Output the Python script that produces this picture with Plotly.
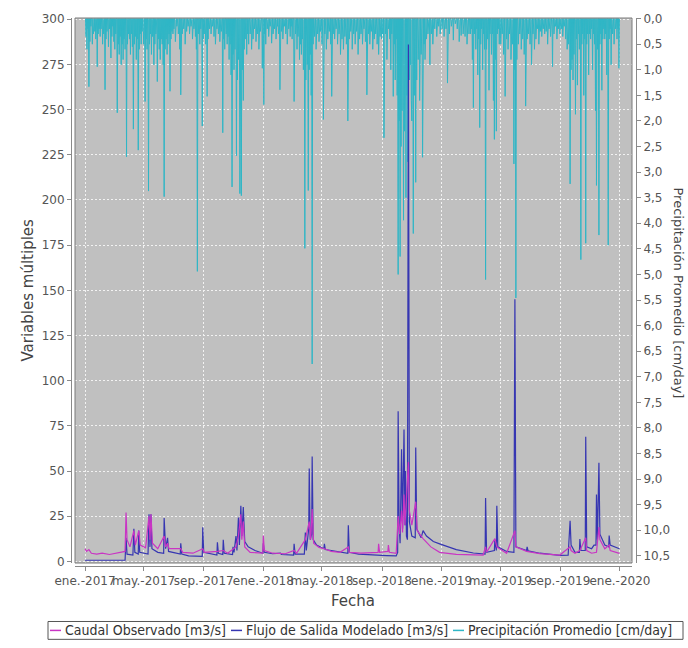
import pandas as pd
import plotly.graph_objects as go

# ---------------- DATA ----------------
# Precipitation (cm/day): rainy days only; all other days are 0
rain_dates = [
 "2017-01-03","2017-01-05","2017-01-07","2017-01-09","2017-01-11","2017-01-13","2017-01-16","2017-01-18","2017-01-21","2017-01-23","2017-01-26","2017-01-28","2017-01-30",
 "2017-02-01","2017-02-03","2017-02-06","2017-02-08","2017-02-11","2017-02-13","2017-02-15","2017-02-18","2017-02-20","2017-02-23","2017-02-25","2017-02-27",
 "2017-03-01","2017-03-03","2017-03-05","2017-03-08","2017-03-10","2017-03-12","2017-03-14","2017-03-16","2017-03-18","2017-03-20","2017-03-22","2017-03-24","2017-03-27","2017-03-29","2017-03-31",
 "2017-04-02","2017-04-04","2017-04-06","2017-04-08","2017-04-10","2017-04-12","2017-04-14","2017-04-16","2017-04-18","2017-04-20","2017-04-22","2017-04-24","2017-04-26","2017-04-28",
 "2017-05-01","2017-05-04","2017-05-06","2017-05-08","2017-05-11","2017-05-13","2017-05-15","2017-05-17","2017-05-19","2017-05-22","2017-05-24","2017-05-26","2017-05-29","2017-05-31",
 "2017-06-02","2017-06-04","2017-06-06","2017-06-08","2017-06-10","2017-06-12","2017-06-14","2017-06-16","2017-06-18","2017-06-20","2017-06-22","2017-06-24","2017-06-26","2017-06-28","2017-06-30",
 "2017-07-02","2017-07-05","2017-07-08","2017-07-11","2017-07-14","2017-07-16","2017-07-19","2017-07-22","2017-07-25","2017-07-28","2017-07-31",
 "2017-08-03","2017-08-06","2017-08-09","2017-08-12","2017-08-15","2017-08-17","2017-08-19","2017-08-21","2017-08-24","2017-08-26","2017-08-29","2017-08-31",
 "2017-09-02","2017-09-05","2017-09-08","2017-09-10","2017-09-13","2017-09-16","2017-09-19","2017-09-22","2017-09-25","2017-09-28",
 "2017-10-01","2017-10-04","2017-10-07","2017-10-10","2017-10-12","2017-10-14","2017-10-17","2017-10-19","2017-10-21","2017-10-23","2017-10-25","2017-10-27","2017-10-29","2017-10-31",
 "2017-11-02","2017-11-04","2017-11-07","2017-11-09","2017-11-11","2017-11-14","2017-11-17","2017-11-19","2017-11-21","2017-11-23","2017-11-25","2017-11-28","2017-11-30",
 "2017-12-02","2017-12-05","2017-12-08","2017-12-11","2017-12-14","2017-12-17","2017-12-20","2017-12-23","2017-12-26","2017-12-30",
 "2018-01-02","2018-01-04","2018-01-06","2018-01-09","2018-01-12","2018-01-15","2018-01-18","2018-01-21","2018-01-24","2018-01-27","2018-01-30",
 "2018-02-01","2018-02-04","2018-02-07","2018-02-10","2018-02-13","2018-02-16","2018-02-19","2018-02-22","2018-02-25","2018-02-27",
 "2018-03-01","2018-03-05","2018-03-08","2018-03-11","2018-03-13","2018-03-16","2018-03-18","2018-03-20","2018-03-22","2018-03-24","2018-03-27","2018-03-29","2018-03-31",
 "2018-04-01","2018-04-03","2018-04-05","2018-04-07","2018-04-09","2018-04-11","2018-04-13","2018-04-16","2018-04-19","2018-04-22","2018-04-25","2018-04-28",
 "2018-05-01","2018-05-04","2018-05-07","2018-05-10","2018-05-13","2018-05-16","2018-05-19","2018-05-21","2018-05-24","2018-05-27","2018-05-30",
 "2018-06-02","2018-06-05","2018-06-08","2018-06-11","2018-06-14","2018-06-17","2018-06-20","2018-06-23","2018-06-26","2018-06-29",
 "2018-07-02","2018-07-05","2018-07-08","2018-07-11","2018-07-14","2018-07-17","2018-07-20","2018-07-23","2018-07-26","2018-07-29",
 "2018-08-01","2018-08-04","2018-08-07","2018-08-10","2018-08-13","2018-08-16","2018-08-19","2018-08-22","2018-08-25","2018-08-28","2018-08-31",
 "2018-09-02","2018-09-05","2018-09-08","2018-09-11","2018-09-14","2018-09-17","2018-09-19","2018-09-21","2018-09-24","2018-09-26","2018-09-28","2018-09-30",
 "2018-10-02","2018-10-04","2018-10-06","2018-10-08","2018-10-10","2018-10-12","2018-10-15","2018-10-17","2018-10-20","2018-10-22","2018-10-24","2018-10-27","2018-10-29","2018-10-31",
 "2018-11-01","2018-11-04","2018-11-06","2018-11-09","2018-11-11","2018-11-14","2018-11-17","2018-11-20","2018-11-23","2018-11-26","2018-11-28",
 "2018-12-01","2018-12-04","2018-12-08","2018-12-11","2018-12-14","2018-12-18","2018-12-22","2018-12-26","2018-12-29",
 "2019-01-02","2019-01-06","2019-01-10","2019-01-13","2019-01-17","2019-01-21","2019-01-25","2019-01-29",
 "2019-02-02","2019-02-06","2019-02-10","2019-02-14","2019-02-18","2019-02-22","2019-02-26",
 "2019-03-01","2019-03-03","2019-03-05","2019-03-07","2019-03-09","2019-03-12","2019-03-14","2019-03-16","2019-03-18","2019-03-20","2019-03-22","2019-03-24","2019-03-26","2019-03-28","2019-03-30",
 "2019-04-01","2019-04-03","2019-04-05","2019-04-08","2019-04-10","2019-04-13","2019-04-15","2019-04-17","2019-04-19","2019-04-21","2019-04-23","2019-04-25","2019-04-27","2019-04-29",
 "2019-05-02","2019-05-05","2019-05-08","2019-05-11","2019-05-14","2019-05-17","2019-05-20","2019-05-23","2019-05-26","2019-05-29","2019-05-31",
 "2019-06-02","2019-06-04","2019-06-07","2019-06-10","2019-06-13","2019-06-16","2019-06-19","2019-06-22","2019-06-25","2019-06-28",
 "2019-07-01","2019-07-04","2019-07-07","2019-07-10","2019-07-13","2019-07-16","2019-07-19","2019-07-22","2019-07-25","2019-07-28","2019-07-31",
 "2019-08-03","2019-08-06","2019-08-09","2019-08-12","2019-08-16","2019-08-19","2019-08-22","2019-08-25","2019-08-28","2019-08-31",
 "2019-09-03","2019-09-06","2019-09-09","2019-09-12","2019-09-15","2019-09-18","2019-09-21","2019-09-23","2019-09-25","2019-09-27","2019-09-29",
 "2019-10-02","2019-10-04","2019-10-06","2019-10-08","2019-10-10","2019-10-13","2019-10-15","2019-10-17","2019-10-19","2019-10-21","2019-10-23","2019-10-25","2019-10-27","2019-10-29","2019-10-31",
 "2019-11-02","2019-11-04","2019-11-06","2019-11-08","2019-11-10","2019-11-12","2019-11-14","2019-11-16","2019-11-19","2019-11-21","2019-11-23","2019-11-25","2019-11-27","2019-11-29",
 "2019-12-01","2019-12-03","2019-12-05","2019-12-08","2019-12-10","2019-12-12","2019-12-14","2019-12-17","2019-12-20","2019-12-23","2019-12-26","2019-12-28","2019-12-30",
]
rain_cm = [
 0.35,0.6,0.2,1.33,0.45,0.15,0.5,0.3,0.25,0.4,0.94,0.3,0.2,
 0.35,0.2,0.5,0.3,1.39,0.4,0.25,0.55,0.2,0.77,0.35,0.15,
 0.45,0.6,0.3,1.84,0.5,0.7,0.35,0.9,0.5,0.8,0.4,0.6,2.70,0.5,0.3,
 0.4,0.7,0.3,0.55,2.16,0.5,0.35,0.8,0.4,2.57,0.6,0.3,0.5,0.25,
 0.5,1.62,0.4,0.6,3.37,0.5,0.3,0.7,0.35,0.9,0.5,0.3,1.23,0.4,
 0.6,0.8,0.4,0.5,0.9,3.48,0.6,0.4,0.7,0.5,0.3,1.42,0.4,0.25,0.3,
 0.2,0.45,0.15,0.3,0.6,1.49,0.3,0.2,0.5,0.25,0.15,
 0.3,0.15,0.4,0.2,0.35,0.6,4.94,0.3,0.5,0.2,2.10,0.4,
 0.3,0.5,1.52,0.4,0.2,0.3,0.15,0.35,0.5,0.2,
 0.3,0.45,0.25,2.23,0.4,0.6,0.3,0.5,0.35,0.8,0.5,1.1,3.29,0.7,
 1.0,0.6,2.68,1.2,0.8,3.42,3.46,1.0,1.6,0.6,0.4,0.7,0.3,
 0.5,0.3,0.6,0.4,0.2,0.45,0.3,0.6,0.25,0.97,
 1.68,0.3,0.5,0.2,0.35,0.15,0.48,0.3,0.2,0.4,0.15,
 0.3,1.39,0.25,0.4,0.15,0.3,0.5,0.2,0.35,0.15,
 0.4,1.62,0.3,0.6,0.35,0.8,0.5,0.7,0.4,1.0,4.49,1.2,0.6,
 0.9,3.36,1.0,0.7,1.5,6.75,0.5,0.35,0.6,0.3,0.45,0.25,
 0.5,1.97,0.3,0.6,0.4,0.25,0.5,1.52,0.3,0.4,0.2,
 0.5,0.3,0.7,0.4,0.6,0.35,0.5,2.0,0.4,0.25,
 0.6,0.3,0.5,0.25,0.7,0.4,0.3,0.5,0.2,0.45,
 1.49,0.3,0.5,0.25,0.6,0.4,0.3,0.5,0.7,0.35,0.4,
 0.3,2.33,0.3,0.8,0.2,0.4,1.0,0.3,1.52,0.5,1.2,0.4,
 1.5,5.0,2.0,4.65,2.5,1.8,3.94,2.2,3.5,1.5,2.8,1.2,0.9,1.6,
 2.0,4.2,1.5,3.2,1.2,0.8,1.6,0.7,2.71,0.5,0.8,
 0.4,0.3,0.9,0.3,0.5,0.2,0.35,0.15,0.3,
 0.2,0.35,0.2,1.26,0.3,0.15,0.42,0.1,
 0.2,0.45,0.33,0.3,0.35,0.5,0.3,
 0.3,0.2,0.8,1.74,0.3,0.6,0.2,1.1,0.4,2.13,0.5,0.2,1.0,0.3,0.6,
 5.1,0.6,0.4,1.4,0.3,0.7,0.3,1.6,2.36,0.8,2.2,0.3,0.2,0.5,
 0.5,0.3,0.7,1.52,0.4,0.6,0.3,0.8,0.5,2.84,1.0,
 5.46,0.8,0.5,0.3,0.6,0.4,0.7,1.71,0.4,0.3,
 0.5,0.9,0.3,0.6,0.4,0.2,0.5,0.25,0.35,0.2,0.3,
 0.25,0.5,0.2,0.35,0.94,0.3,0.15,0.4,0.2,0.3,
 0.2,0.35,0.15,0.4,0.6,0.5,3.23,1.0,0.8,1.2,0.7,
 1.87,0.4,1.3,0.3,0.6,4.71,0.5,0.3,1.5,0.4,4.39,0.5,0.3,1.1,0.3,
 0.4,0.2,1.0,0.3,0.5,1.8,3.26,0.6,4.23,0.5,0.3,1.4,0.4,0.2,
 0.4,0.3,1.1,4.43,0.4,0.2,0.9,0.3,0.5,0.2,0.4,0.2,0.97,
]

# Modelled outflow (m3/s)
mod_dates = [
 "2017-01-01","2017-03-24","2017-03-26","2017-03-28","2017-04-09","2017-04-11","2017-04-13","2017-04-20","2017-04-21","2017-04-23",
 "2017-05-10","2017-05-12","2017-05-14","2017-05-16","2017-05-18","2017-05-30","2017-06-11","2017-06-12","2017-06-15","2017-06-19",
 "2017-06-21","2017-07-15","2017-07-16","2017-07-18","2017-08-01","2017-08-29","2017-08-30","2017-09-01","2017-09-28","2017-09-29",
 "2017-10-01","2017-10-10","2017-10-11","2017-10-13","2017-10-30","2017-10-31","2017-11-02","2017-11-06","2017-11-08","2017-11-11",
 "2017-11-13","2017-11-16","2017-11-18","2017-11-21","2017-11-24","2017-12-01","2017-12-15","2017-12-31","2018-01-01","2018-01-03",
 "2018-01-20","2018-02-05","2018-02-07","2018-03-04","2018-03-05","2018-03-07","2018-03-26","2018-03-28","2018-03-30","2018-04-04",
 "2018-04-05","2018-04-07","2018-04-10","2018-04-11","2018-04-13","2018-04-20","2018-05-05","2018-05-06","2018-05-08","2018-06-07",
 "2018-06-23","2018-06-24","2018-06-26","2018-07-15","2018-08-15","2018-09-10","2018-09-30","2018-10-03","2018-10-04","2018-10-06",
 "2018-10-08","2018-10-11","2018-10-13","2018-10-16","2018-10-18","2018-10-19","2018-10-21","2018-10-23","2018-10-25","2018-10-27",
 "2018-11-01","2018-11-08","2018-11-09","2018-11-11","2018-11-20","2018-11-24","2018-12-01","2018-12-15","2018-12-28","2019-01-31",
 "2019-03-07","2019-03-27","2019-03-31","2019-04-01","2019-04-03","2019-04-19","2019-04-20","2019-04-23","2019-04-24","2019-04-26",
 "2019-05-14","2019-05-29","2019-05-31","2019-06-02","2019-06-24","2019-06-25","2019-06-27","2019-07-21","2019-08-31","2019-09-17",
 "2019-09-21","2019-09-23","2019-10-01","2019-10-10","2019-10-11","2019-10-13","2019-10-22","2019-10-23","2019-10-25","2019-11-04",
 "2019-11-09","2019-11-13","2019-11-14","2019-11-16","2019-11-19","2019-11-21","2019-12-01","2019-12-09","2019-12-10","2019-12-12",
 "2019-12-31",
]
mod_flow = [
 0.6,0.6,13,4,3.5,18,5,4,17,5,
 4,26,8,26,7,5,4.5,24,7,13,
 5.5,4,10,4,3,2.8,18.8,5,3.5,10.6,
 4.5,3.8,11.9,4.5,3.8,8,5,14,6,24.3,
 9,30.7,14,30,11,8,6,4.5,10,5,
 4.2,4.5,3.8,3.5,9.7,4,4,16,6,18,
 51.4,12,15,58,12,9,7,9.7,6.5,5.3,
 4.5,20,5,4,3.4,3.2,3,5,83,20,
 10,62,18,73,20,50,14,12,286,22,
 14,13,63,18,13,17,14,11,9.7,6.5,
 4.6,3.9,4,35,5,6,12,6,30.7,8,
 5.5,5,145,8,6,8,5.8,4.5,3.3,3.4,
 22.5,9,5,5,12.4,6,6,69,8,7,
 9,9,37,12,54.5,15,9,8,14.3,9,
 7,
]

# Observed discharge (m3/s)
obs_dates = [
 "2017-01-01","2017-01-04","2017-01-09","2017-01-14","2017-01-25","2017-02-05","2017-02-20","2017-03-05","2017-03-15","2017-03-24",
 "2017-03-26","2017-03-28","2017-04-03","2017-04-11","2017-04-14","2017-04-21","2017-04-24","2017-05-05","2017-05-12","2017-05-14",
 "2017-05-16","2017-05-19","2017-05-30","2017-06-12","2017-06-15","2017-06-19","2017-06-22","2017-07-16","2017-07-20","2017-08-10",
 "2017-08-30","2017-09-02","2017-09-29","2017-10-11","2017-10-20","2017-11-06","2017-11-11","2017-11-16","2017-11-18","2017-11-21",
 "2017-11-24","2017-12-05","2017-12-31","2018-01-01","2018-01-03","2018-01-20","2018-02-15","2018-03-05","2018-03-10","2018-03-28",
 "2018-04-05","2018-04-08","2018-04-11","2018-04-14","2018-04-25","2018-05-06","2018-05-20","2018-06-07","2018-06-24","2018-06-26",
 "2018-07-20","2018-08-24","2018-08-25","2018-08-27","2018-09-13","2018-09-14","2018-09-16","2018-09-30","2018-10-04","2018-10-07",
 "2018-10-11","2018-10-13","2018-10-16","2018-10-18","2018-10-25","2018-10-27","2018-11-01","2018-11-09","2018-11-12","2018-11-24",
 "2018-12-10","2018-12-28","2019-01-31","2019-03-27","2019-04-01","2019-04-03","2019-04-20","2019-04-24","2019-05-14","2019-05-31",
 "2019-06-02","2019-06-24","2019-07-21","2019-08-31","2019-09-21","2019-09-23","2019-10-01","2019-10-11","2019-10-23","2019-10-25",
 "2019-11-04","2019-11-14","2019-11-19","2019-11-21","2019-12-01","2019-12-10","2019-12-12","2019-12-31",
]
obs_flow = [
 7,5.5,6.5,4.5,4,4.5,3.8,4.5,5,5.5,
 27,12,8,17,9,17,9,7.5,25,12,
 26,10,7,14,8,10,7,7,5,4.5,
 7,5,5.5,6,4.5,8,14,26,12,22,
 8,5,4.5,14.3,6,4.5,4.2,6,4.5,12,
 22,12,29,10,7.7,7,5.5,5,8,5,
 4.6,5,9.7,5,5.5,9,5,4.5,25,15,
 28,16,37,20,55,28,20,33,17,12.6,
 8,5,3.9,3.5,8,5,12.6,8,4.5,17,
 8,5.5,4.3,3.5,8,6,4.5,6,13,6,
 4.5,5,19,12,7,9,6,4.4,
]

x_tick_dates = ["2017-01-01","2017-05-01","2017-09-01","2018-01-01","2018-05-01","2018-09-01",
                "2019-01-01","2019-05-01","2019-09-01","2020-01-01"]
x_tick_text = ["ene.-2017","may.-2017","sep.-2017","ene.-2018","may.-2018","sep.-2018",
               "ene.-2019","may.-2019","sep.-2019","ene.-2020"]

series_names = ["Caudal Observado [m3/s]", "Flujo de Salida Modelado [m3/s]",
                "Precipitación Promedio [cm/day]"]
series_colors = ["#c935c4", "#3636b2", "#2fb6c6"]

# ---------------- BUILD ----------------
days = pd.date_range("2017-01-01", "2019-12-31", freq="D")
precip = pd.Series(0.0, index=days)
precip.loc[pd.to_datetime(rain_dates)] = rain_cm

fig = go.Figure()
# precipitation on base axis (drawn underneath)
fig.add_trace(go.Scatter(x=precip.index, y=precip.values, mode="lines",
                         line=dict(color=series_colors[2], width=1),
                         name=series_names[2], yaxis="y", showlegend=False))
fig.add_trace(go.Scatter(x=pd.to_datetime(mod_dates), y=mod_flow, mode="lines",
                         line=dict(color=series_colors[1], width=1.2),
                         name=series_names[1], yaxis="y2", showlegend=False))
fig.add_trace(go.Scatter(x=pd.to_datetime(obs_dates), y=obs_flow, mode="lines",
                         line=dict(color=series_colors[0], width=1.2),
                         name=series_names[0], yaxis="y2", showlegend=False))

W, H = 688, 648
ML, MR, MT, MB = 71, 52, 13, 82
PW, PH = W - ML - MR, H - MT - MB


def px(xp):
    return (xp - ML) / PW


def py(yp):
    return (H - MB - yp) / PH


tick_font = dict(family="DejaVu Sans", size=12, color="#555555")
axis_line = "#8a8a8a"
grid = dict(showgrid=True, gridcolor="#f2f2f2", griddash="2px,2px", gridwidth=1)

fig.update_layout(
    width=W, height=H,
    margin=dict(l=ML, r=MR, t=MT, b=MB),
    paper_bgcolor="white", plot_bgcolor="#c0c0c0",
    separators=",.",
    showlegend=False,
    xaxis=dict(type="date", range=["2016-12-11 12:00", "2020-01-25 17:00"],
               domain=[px(75), px(632)], anchor="free", position=0,
               tickmode="array", tickvals=x_tick_dates, ticktext=x_tick_text,
               tickangle=0, tickfont=tick_font, ticks="outside", ticklen=4,
               tickcolor=axis_line, showline=True, linecolor=axis_line, linewidth=1,
               zeroline=False, **grid),
    yaxis=dict(range=[10.64, -0.012], side="right", anchor="free", position=1,
               domain=[py(563), 1], tickmode="linear", tick0=0, dtick=0.5,
               tickformat=".1f", tickfont=tick_font, ticks="outside", ticklen=4,
               tickcolor=axis_line, showline=True, linecolor=axis_line,
               showgrid=False, zeroline=False),
    yaxis2=dict(range=[-0.93, 300.7], side="left", anchor="free", position=0,
                overlaying="y", domain=[py(563), 1],
                tickmode="linear", tick0=0, dtick=25, tickfont=tick_font,
                ticks="outside", ticklen=4, tickcolor=axis_line,
                showline=True, linecolor=axis_line,
                zeroline=False, **grid),
)

# plot outline
fig.add_shape(type="rect", xref="paper", yref="paper", x0=px(75), x1=px(632),
              y0=py(563), y1=py(13), line=dict(color="#7a7a7a", width=1),
              fillcolor="rgba(0,0,0,0)", layer="above")

title_font = dict(family="DejaVu Sans", size=15, color="#444444")
fig.add_annotation(text="Variables múltiples", xref="paper", yref="paper",
                   x=px(28), y=py(288), textangle=-90, showarrow=False,
                   font=title_font, xanchor="center", yanchor="middle")
fig.add_annotation(text="Fecha", xref="paper", yref="paper",
                   x=px(353), y=py(601), showarrow=False,
                   font=title_font, xanchor="center", yanchor="middle")
fig.add_annotation(text="Precipitación Promedio [cm/day]", xref="paper", yref="paper",
                   x=px(679), y=py(290), textangle=90, showarrow=False,
                   font=dict(family="DejaVu Sans", size=13, color="#444444"),
                   xanchor="center", yanchor="middle")

# legend box
fig.add_shape(type="rect", xref="paper", yref="paper", x0=px(48), x1=px(683),
              y0=py(640), y1=py(622), line=dict(color="#555555", width=1),
              fillcolor="white")
leg_font = dict(family="DejaVu Sans Condensed", size=14, color="#333333")
leg_items = [(50, 63), (231, 244), (453, 466)]
for (lx, tx), name, col in zip(leg_items, series_names, series_colors):
    fig.add_shape(type="line", xref="paper", yref="paper", x0=px(lx), x1=px(lx + 11),
                  y0=py(631), y1=py(631), line=dict(color=col, width=1.5))
    fig.add_annotation(text=name, xref="paper", yref="paper", x=px(tx), y=py(631),
                       showarrow=False, font=leg_font, xanchor="left", yanchor="middle")

fig.write_html("out.html")
